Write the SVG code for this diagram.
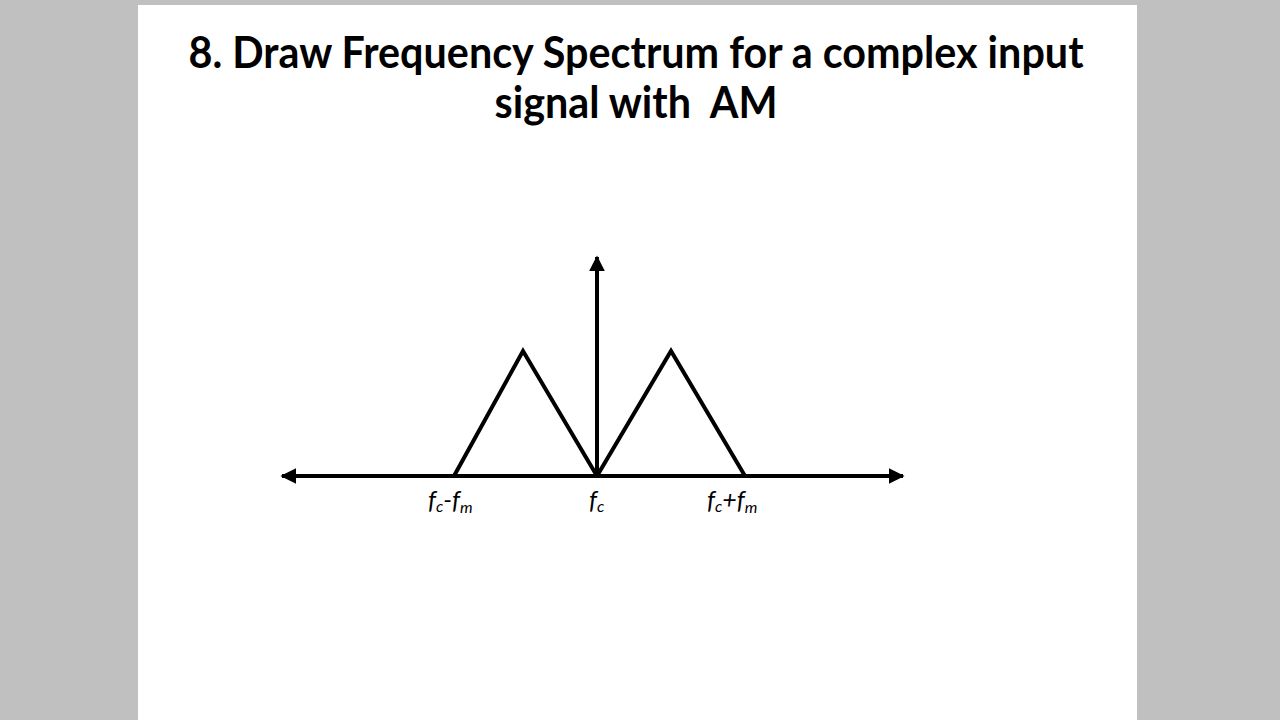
<svg xmlns="http://www.w3.org/2000/svg" width="1280" height="720" viewBox="0 0 1280 720">
<defs>
<style>
.title{font-family:Lato,"Open Sans","Liberation Sans",sans-serif;font-weight:bold;font-size:43px;fill:#000;text-anchor:middle}
.lbl{font-family:Lato,"Liberation Sans",sans-serif;font-style:italic;font-size:25px;fill:#000}
.sub{font-size:16px}
.ax{stroke:#000;stroke-width:4;fill:none}
.tri{stroke:#000;stroke-width:4;fill:none;stroke-linejoin:miter}
</style>
<marker id="ah" viewBox="0 0 10 10" refX="9" refY="5" markerWidth="4" markerHeight="4" orient="auto-start-reverse" markerUnits="strokeWidth">
<path d="M0,0 L10,5 L0,10 Z" fill="#000"/>
</marker>
</defs>
<rect x="0" y="0" width="1280" height="720" fill="#c0c0c0"/>
<rect x="138" y="5" width="999" height="715" fill="#fff"/>
<g id="title">
<text class="title" x="636" y="68" textLength="895" lengthAdjust="spacingAndGlyphs">8. Draw Frequency Spectrum for a complex input</text>
<text class="title" x="636" y="118" textLength="283" lengthAdjust="spacingAndGlyphs" xml:space="preserve">signal with  AM</text>
</g>
<g id="connectors">
<line class="ax" x1="282" y1="476" x2="903" y2="476" marker-start="url(#ah)" marker-end="url(#ah)"/>
<line class="ax" x1="597" y1="476" x2="597" y2="257" marker-end="url(#ah)"/>
</g>
<g id="lsb">
<polyline class="tri" points="454,476 523,351 597,476"/>
</g>
<g id="usb">
<polyline class="tri" points="597,476 671,351 745,476"/>
</g>
<g id="labels">
<text class="lbl" x="428" y="509">f<tspan class="sub" dy="3">c</tspan><tspan dy="-3">-f</tspan><tspan class="sub" dy="4">m</tspan></text>
<text class="lbl" x="589" y="509">f<tspan class="sub" dy="3">c</tspan></text>
<text class="lbl" x="707" y="509">f<tspan class="sub" dy="3">c</tspan><tspan dy="-3">+f</tspan><tspan class="sub" dy="4">m</tspan></text>
</g>
</svg>
